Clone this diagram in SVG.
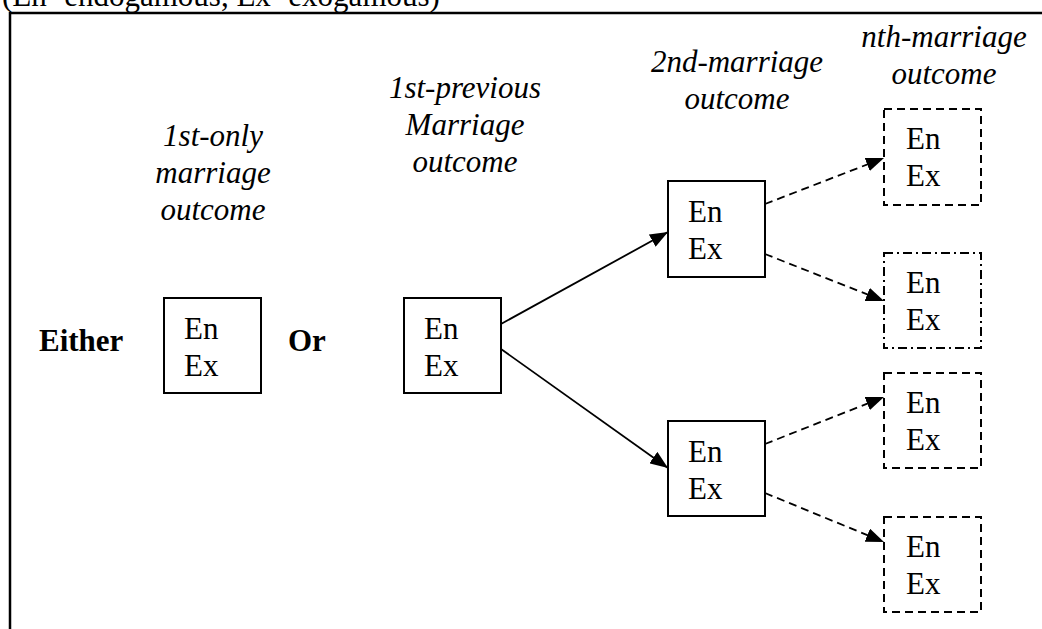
<svg xmlns="http://www.w3.org/2000/svg" width="1042" height="629" viewBox="0 0 1042 629">
<style>
text{font-family:"Liberation Serif","Times New Roman",serif;font-size:31px;fill:#000}
.it{font-style:italic;text-anchor:middle}
.b{font-weight:bold}
.box{fill:#fff;stroke:#000;stroke-width:2}
.dash{fill:#fff;stroke:#000;stroke-width:2;stroke-dasharray:8 5}
.dashdot{fill:#fff;stroke:#000;stroke-width:2;stroke-dasharray:9 4 2 4}
.con{fill:none;stroke:#000;stroke-width:1.8}
.dcon{fill:none;stroke:#000;stroke-width:1.8;stroke-dasharray:8 5}
</style>
<defs>
<marker id="ah" viewBox="0 0 18 14" refX="18" refY="7" markerWidth="18" markerHeight="14" markerUnits="userSpaceOnUse" orient="auto">
<path d="M0,0 L18,7 L0,14 z" fill="#000"/>
</marker>
</defs>
<g id="header">
<text x="2" y="6">(En=endogamous, Ex=exogamous)</text>
</g>
<g id="frame">
<path d="M10,629 V13 H1042" fill="none" stroke="#000" stroke-width="2.5"/>
</g>
<g id="labels">
<text class="it" x="213" y="146">1st-only</text>
<text class="it" x="213" y="183">marriage</text>
<text class="it" x="213" y="220">outcome</text>
<text class="it" x="465" y="98">1st-previous</text>
<text class="it" x="465" y="135">Marriage</text>
<text class="it" x="465" y="172">outcome</text>
<text class="it" x="737" y="72">2nd-marriage</text>
<text class="it" x="737" y="109">outcome</text>
<text class="it" x="944" y="47">nth-marriage</text>
<text class="it" x="944" y="84">outcome</text>
<text class="b" x="39" y="351">Either</text>
<text class="b" x="288" y="351">Or</text>
</g>
<g id="connectors">
<line class="con" x1="501" y1="324" x2="668" y2="232" marker-end="url(#ah)"/>
<line class="con" x1="501" y1="349" x2="668" y2="468" marker-end="url(#ah)"/>
<line class="dcon" x1="765" y1="204" x2="884" y2="158" marker-end="url(#ah)"/>
<line class="dcon" x1="765" y1="254" x2="884" y2="301" marker-end="url(#ah)"/>
<line class="dcon" x1="765" y1="444" x2="884" y2="397" marker-end="url(#ah)"/>
<line class="dcon" x1="765" y1="493" x2="884" y2="542" marker-end="url(#ah)"/>
</g>
<g id="node-first-only">
<rect class="box" x="164" y="298" width="97" height="95"/>
<text x="184" y="339">En</text>
<text x="184" y="376">Ex</text>
</g>
<g id="node-first-previous">
<rect class="box" x="404" y="298" width="97" height="95"/>
<text x="424" y="339">En</text>
<text x="424" y="376">Ex</text>
</g>
<g id="node-second-a">
<rect class="box" x="668" y="181" width="97" height="96"/>
<text x="688" y="222">En</text>
<text x="688" y="259">Ex</text>
</g>
<g id="node-second-b">
<rect class="box" x="668" y="421" width="97" height="95"/>
<text x="688" y="462">En</text>
<text x="688" y="499">Ex</text>
</g>
<g id="node-nth-1">
<rect class="dash" x="884" y="109" width="97" height="96"/>
<text x="906" y="149">En</text>
<text x="906" y="186">Ex</text>
</g>
<g id="node-nth-2">
<rect class="dashdot" x="884" y="253" width="97" height="95"/>
<text x="906" y="293">En</text>
<text x="906" y="330">Ex</text>
</g>
<g id="node-nth-3">
<rect class="dash" x="884" y="373" width="97" height="95"/>
<text x="906" y="413">En</text>
<text x="906" y="450">Ex</text>
</g>
<g id="node-nth-4">
<rect class="dash" x="884" y="517" width="97" height="95"/>
<text x="906" y="557">En</text>
<text x="906" y="594">Ex</text>
</g>
</svg>
